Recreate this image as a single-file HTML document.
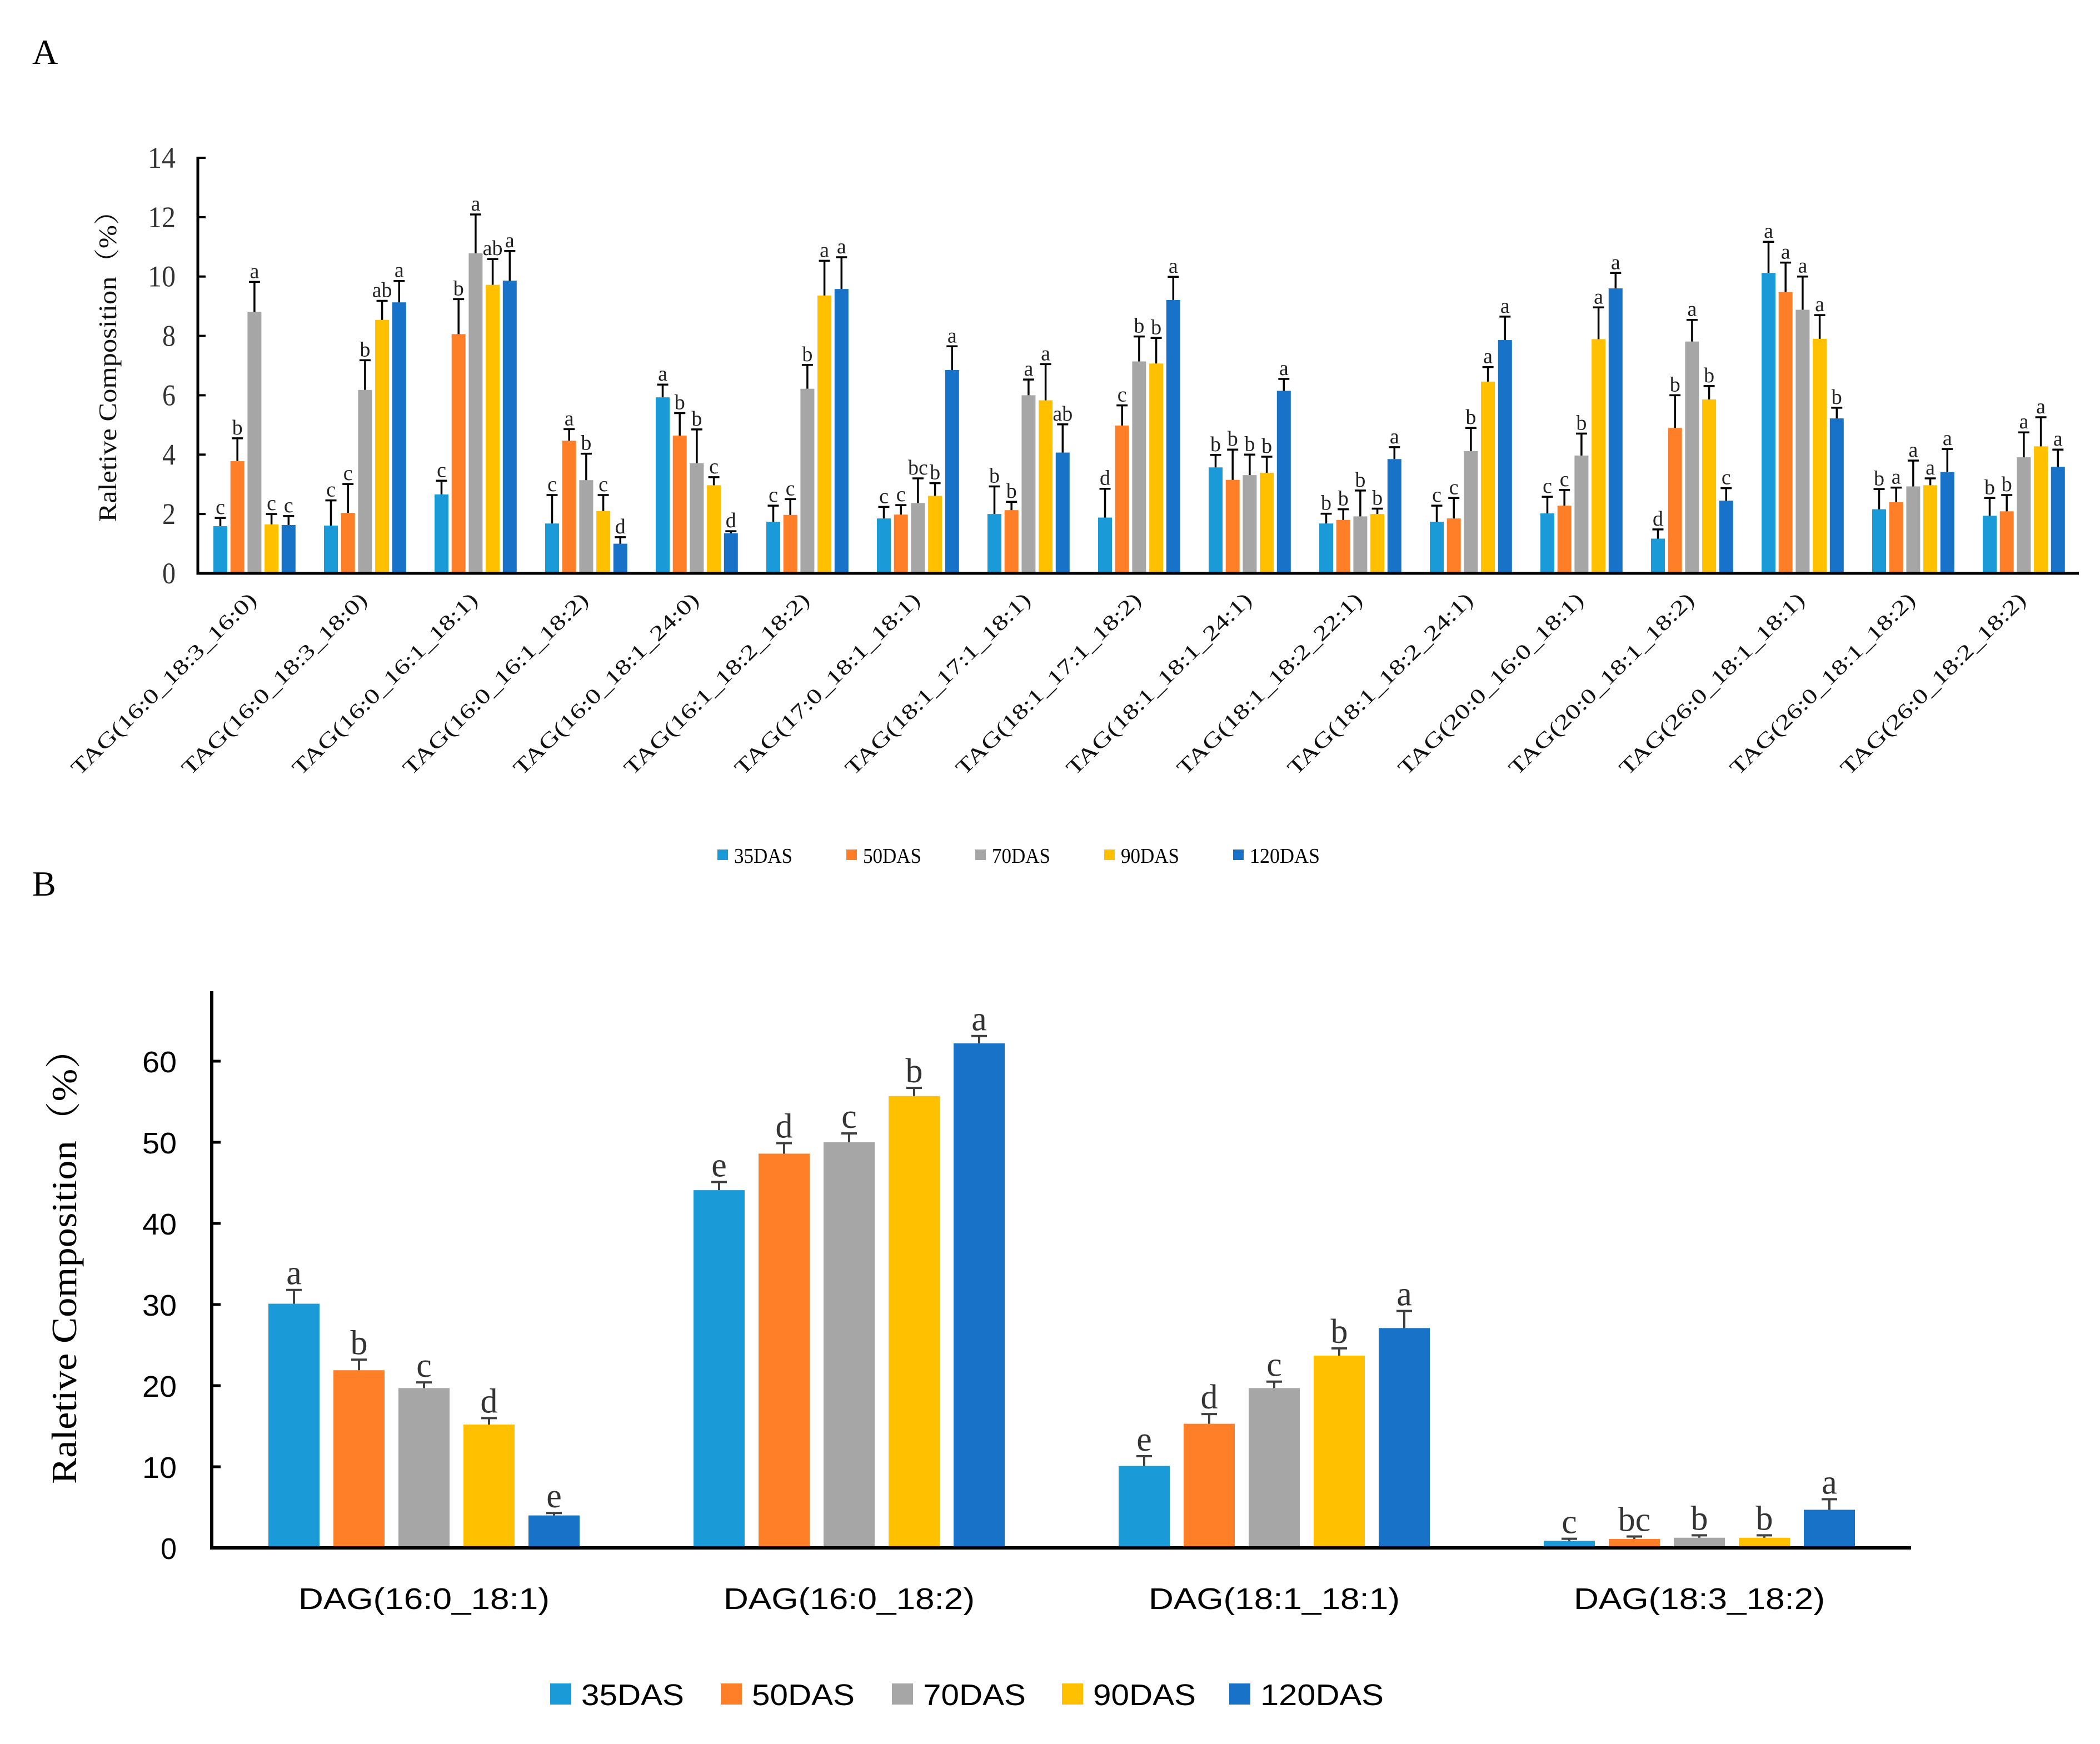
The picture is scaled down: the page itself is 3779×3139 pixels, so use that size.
<!DOCTYPE html>
<html><head><meta charset="utf-8"><style>
html,body{margin:0;padding:0;background:#fff;}
svg{display:block;}
</style></head><body>
<svg id="chart" width="3779" height="3139" viewBox="0 0 3779 3139" xmlns="http://www.w3.org/2000/svg">
<text x="58" y="115" font-family="Liberation Serif, serif" font-size="64">A</text>
<text x="58" y="1612" font-family="Liberation Serif, serif" font-size="64">B</text>
<g id="pa"></g>
<g id="pb"></g>
</svg>
<script>
const seriesNames = ["35DAS","50DAS","70DAS","90DAS","120DAS"];
const colors = ["#1a9ad6","#fe7f27","#a6a6a6","#ffc000","#1872c8"];

const tagCats = ["TAG(16:0_18:3_16:0)","TAG(16:0_18:3_18:0)","TAG(16:0_16:1_18:1)","TAG(16:0_16:1_18:2)","TAG(16:0_18:1_24:0)","TAG(16:1_18:2_18:2)","TAG(17:0_18:1_18:1)","TAG(18:1_17:1_18:1)","TAG(18:1_17:1_18:2)","TAG(18:1_18:1_24:1)","TAG(18:1_18:2_22:1)","TAG(18:1_18:2_24:1)","TAG(20:0_16:0_18:1)","TAG(20:0_18:1_18:2)","TAG(26:0_18:1_18:1)","TAG(26:0_18:1_18:2)","TAG(26:0_18:2_18:2)"];
const tag35 = [1.59,1.61,2.66,1.68,5.93,1.74,1.85,2.0,1.88,3.57,1.68,1.74,2.02,1.17,10.12,2.16,1.94];
const tag50 = [3.78,2.04,8.06,4.47,4.64,1.97,1.98,2.13,4.98,3.15,1.80,1.85,2.28,4.90,9.48,2.40,2.09];
const tag70 = [8.81,6.18,10.78,3.14,3.71,6.22,2.37,6.0,7.14,3.31,1.92,4.12,3.97,7.81,8.88,2.93,3.91];
const tag90 = [1.65,8.54,9.72,2.10,2.97,9.36,2.61,5.83,7.07,3.39,2.0,6.46,7.89,5.86,7.90,2.97,4.28];
const tag120 = [1.63,9.13,9.86,1.0,1.35,9.58,6.85,4.07,9.21,6.15,3.85,7.86,9.6,2.45,5.22,3.41,3.59];
const tagErr35 = [0.28,0.85,0.46,0.96,0.43,0.54,0.39,0.93,0.97,0.42,0.33,0.54,0.56,0.31,1.05,0.68,0.60];
const tagErr50 = [0.77,0.97,1.18,0.39,0.76,0.53,0.32,0.28,0.68,1.02,0.36,0.69,0.53,1.10,0.99,0.49,0.55];
const tagErr70 = [1.01,1.0,1.31,0.89,1.14,0.80,0.83,0.53,0.84,0.69,0.87,0.78,0.74,0.73,1.12,0.87,0.84];
const tagErr90 = [0.35,0.64,0.87,0.54,0.27,1.17,0.43,1.22,0.86,0.54,0.18,0.49,1.07,0.45,0.80,0.23,0.98];
const tagErr120 = [0.30,0.72,1.0,0.22,0.07,1.07,0.80,0.95,0.78,0.40,0.40,0.79,0.52,0.42,0.36,0.78,0.58];
const tagLetters = [["c","b","a","c","c"],["c","c","b","ab","a"],["c","b","a","ab","a"],["c","a","b","c","d"],["a","b","b","c","d"],["c","c","b","a","a"],["c","c","bc","b","a"],["b","b","a","a","ab"],["d","c","b","b","a"],["b","b","b","b","a"],["b","b","b","b","a"],["c","c","b","a","a"],["c","c","b","a","a"],["d","b","a","b","c"],["a","a","a","a","b"],["b","a","a","a","a"],["b","b","a","a","a"]];
const tagTicks = [0,2,4,6,8,10,12,14];

const dagCats = ["DAG(16:0_18:1)","DAG(16:0_18:2)","DAG(18:1_18:1)","DAG(18:3_18:2)"];
const dag35 = [30.1,44.1,10.1,0.87];
const dag50 = [21.9,48.6,15.3,1.1];
const dag70 = [19.7,50.0,19.7,1.25];
const dag90 = [15.2,55.7,23.7,1.25];
const dag120 = [4.0,62.2,27.1,4.7];
const dagErr35 = [1.7,1.0,1.2,0.25];
const dagErr50 = [1.3,1.3,1.2,0.3];
const dagErr70 = [0.7,1.1,0.8,0.3];
const dagErr90 = [0.8,1.0,0.9,0.3];
const dagErr120 = [0.3,0.9,2.1,1.3];
const dagLetters = [["a","b","c","d","e"],["e","d","c","b","a"],["e","d","c","b","a"],["c","bc","b","b","a"]];
const dagTicks = [0,10,20,30,40,50,60];

const NS = "http://www.w3.org/2000/svg";
function mk(parent, tag, attrs){ const e=document.createElementNS(NS,tag); for(const k in attrs) e.setAttribute(k,attrs[k]); parent.appendChild(e); return e; }

// ---------- Panel A ----------
(function(){
  const g = document.getElementById('pa');
  const x0 = 356, y0 = 1032, yTop = 284, xEnd = 3741, vmax = 14;
  const yA = v => y0 - (v / vmax) * (y0 - yTop);
  const grpW = 199, firstBar = 384, step = 30.7, bw = 25;
  const xA = (i, s) => firstBar + i * grpW + s * step;
  const vals = [tag35, tag50, tag70, tag90, tag120];
  const errs = [tagErr35, tagErr50, tagErr70, tagErr90, tagErr120];
  for (let i = 0; i < tagCats.length; i++) {
    for (let s = 0; s < 5; s++) {
      const v = vals[s][i], e = errs[s][i], x = xA(i, s);
      const r = mk(g, 'rect', {x: x, y: yA(v), width: bw, height: y0 - yA(v), fill: colors[s]});
      
      
      const cx = x + bw/2, ty = yA(v + e);
      const el = mk(g, 'path', {d: `M${cx} ${yA(v)}V${ty}M${cx-10} ${ty}H${cx+10}`, stroke: '#000', 'stroke-width': 3.5, fill: 'none'});
      
      
      const t = mk(g, 'text', {x: cx, y: ty - 7, 'text-anchor': 'middle', 'font-family': 'Liberation Serif, serif', 'font-size': 38, fill: '#222'});
      t.textContent = tagLetters[i][s];
      
      
    }
    const cx = firstBar + i * grpW + (4*step + bw)/2;
    const lbl = mk(g, 'text', {x: 0, y: 0, 'text-anchor': 'end', transform: `translate(${cx+6},${y0+50}) rotate(-44.5)`, 'font-family': 'Liberation Serif, serif', 'font-size': 38, textLength: 450, lengthAdjust: 'spacingAndGlyphs', fill: '#111'});
    lbl.textContent = tagCats[i];
    
    
  }
  tagTicks.forEach(v => {
    const y = yA(v);
    const tk = mk(g, 'line', {x1: x0, x2: x0 + 14, y1: y, y2: y, stroke: '#000', 'stroke-width': 4});
    
    
    const t = mk(g, 'text', {x: 316, y: y + 18, 'text-anchor': 'end', 'font-family': 'Liberation Serif, serif', 'font-size': 54, textLength: v >= 10 ? 50 : 24, lengthAdjust: 'spacingAndGlyphs', fill: '#333'});
    t.textContent = v;
    
    
  });
  const ax = mk(g, 'path', {d: `M${x0} ${yTop-2}V${y0}H${xEnd}`, stroke: '#000', 'stroke-width': 5, fill: 'none'});
  
  
  const yt = mk(g, 'text', {x: 0, y: 0, transform: 'translate(209,647) rotate(-90)', 'text-anchor': 'middle', 'font-family': 'Liberation Serif, "Noto Serif CJK SC", serif', 'font-size': 46, textLength: 585, lengthAdjust: 'spacingAndGlyphs', fill: '#111'});
  yt.textContent = 'Raletive Composition（%）';
  
  
  const lx = [1291, 1523, 1755, 1987, 2219];
  seriesNames.forEach((n, s) => {
    const sq = mk(g, 'rect', {x: lx[s], y: 1529, width: 19, height: 19, fill: colors[s]});
    
    
    const t = mk(g, 'text', {x: lx[s] + 30, y: 1553, 'font-family': 'Liberation Serif, serif', 'font-size': 38, textLength: n.length * 21, lengthAdjust: 'spacingAndGlyphs', fill: '#000'});
    t.textContent = n;
    
    
  });
})();

// ---------- Panel B ----------
(function(){
  const g = document.getElementById('pb');
  const x0 = 381, y0 = 2786, xEnd = 3439, yTop = 1784;
  const pxPer = 14.6;
  const yB = v => y0 - v * pxPer;
  const grpW = 765, firstBar = 483, step = 117, bw = 92;
  const xB = (i, s) => firstBar + i * grpW + s * step;
  const vals = [dag35, dag50, dag70, dag90, dag120];
  const errs = [dagErr35, dagErr50, dagErr70, dagErr90, dagErr120];
  for (let i = 0; i < dagCats.length; i++) {
    for (let s = 0; s < 5; s++) {
      const v = vals[s][i], e = errs[s][i], x = xB(i, s);
      const r = mk(g, 'rect', {x: x, y: yB(v), width: bw, height: y0 - yB(v), fill: colors[s]});
      
      
      const cx = x + bw/2, ty = yB(v + e);
      const el = mk(g, 'path', {d: `M${cx} ${yB(v)}V${ty}M${cx-14} ${ty}H${cx+14}`, stroke: '#404040', 'stroke-width': 4, fill: 'none'});
      
      
      const t = mk(g, 'text', {x: cx, y: ty - 10, 'text-anchor': 'middle', 'font-family': 'Liberation Serif, serif', 'font-size': 62, fill: '#333'});
      t.textContent = dagLetters[i][s];
      
      
    }
    const cx = firstBar + i * grpW + (4*step + bw)/2;
    const lbl = mk(g, 'text', {x: cx, y: 2896, 'text-anchor': 'middle', 'font-family': 'Liberation Sans, sans-serif', 'font-size': 54, textLength: 452, lengthAdjust: 'spacingAndGlyphs', fill: '#000'});
    lbl.textContent = dagCats[i];
    
    
  }
  dagTicks.forEach(v => {
    const y = yB(v);
    const tk = mk(g, 'line', {x1: x0, x2: x0 + 16, y1: y, y2: y, stroke: '#000', 'stroke-width': 5});
    
    
    const t = mk(g, 'text', {x: 318, y: y + 20, 'text-anchor': 'end', 'font-family': 'Liberation Sans, sans-serif', 'font-size': 54, textLength: v === 0 ? 29 : 62, lengthAdjust: 'spacingAndGlyphs', fill: '#000'});
    t.textContent = v;
    
    
  });
  const ax = mk(g, 'path', {d: `M${x0} ${yTop}V${y0}H${xEnd}`, stroke: '#000', 'stroke-width': 6, fill: 'none'});
  
  
  const yt = mk(g, 'text', {x: 0, y: 0, transform: 'translate(137,2262) rotate(-90)', 'text-anchor': 'middle', 'font-family': 'Liberation Serif, "Noto Serif CJK SC", serif', 'font-size': 64, textLength: 818, lengthAdjust: 'spacingAndGlyphs', fill: '#000'});
  yt.textContent = 'Raletive Composition（%）';
  
  
  const lx = [990, 1297, 1605, 1911, 2212];
  seriesNames.forEach((n, s) => {
    const sq = mk(g, 'rect', {x: lx[s], y: 3030, width: 38, height: 38, fill: colors[s]});
    
    
    const t = mk(g, 'text', {x: lx[s] + 56, y: 3069, 'font-family': 'Liberation Sans, sans-serif', 'font-size': 54, textLength: n.length * 37, lengthAdjust: 'spacingAndGlyphs', fill: '#000'});
    t.textContent = n;
    
    
  });
})();
</script>
</body></html>
